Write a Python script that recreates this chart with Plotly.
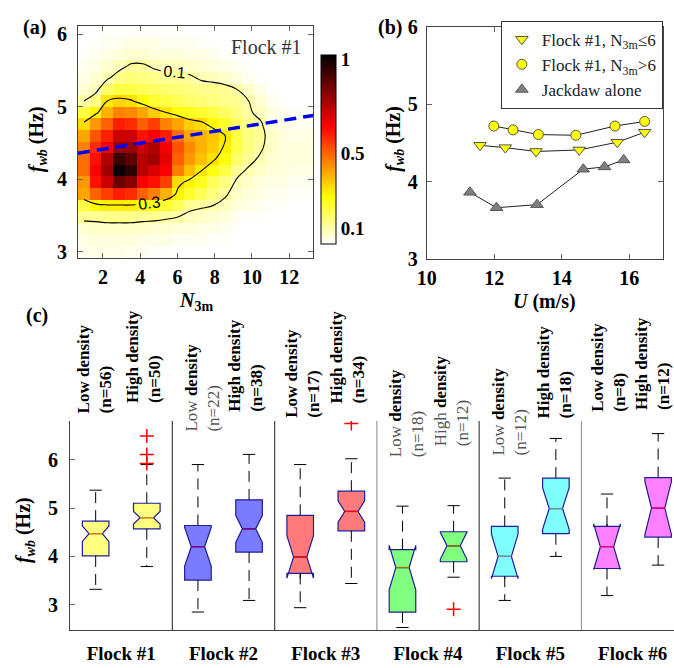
import plotly.graph_objects as go

W, H = 674, 668
SERIF = "Liberation Serif"

# ---------------- Panel (a): density of f_wb vs N_3m (Flock #1) ----------------
n3m_centers = [0.976, 1.608, 2.24, 2.872, 3.504, 4.136, 4.768, 5.4, 6.032, 6.664,
               7.296, 7.928, 8.56, 9.192, 9.824, 10.456, 11.088, 11.72, 12.352, 12.984]
fwb_centers = [3.0, 3.16, 3.32, 3.48, 3.64, 3.80, 3.96, 4.12, 4.28, 4.44,
               4.60, 4.76, 4.92, 5.08, 5.24, 5.40, 5.56, 5.72, 5.88, 6.04]
# rows from bottom (f=3.0) to top (f=6.04)
density = [
    [0.03,0.04,0.04,0.04,0.03,0.03,0.02,0.02,0.01,0.01,0.01,0.01,0.00,0.00,0.00,0.00,0.00,0.00,0.00,0.00],
    [0.04,0.05,0.05,0.05,0.05,0.04,0.04,0.04,0.03,0.03,0.03,0.02,0.02,0.01,0.01,0.00,0.00,0.00,0.00,0.00],
    [0.06,0.07,0.07,0.07,0.07,0.07,0.06,0.06,0.05,0.05,0.04,0.04,0.03,0.02,0.01,0.01,0.01,0.00,0.00,0.00],
    [0.12,0.12,0.13,0.13,0.13,0.12,0.12,0.11,0.10,0.08,0.07,0.06,0.05,0.03,0.02,0.02,0.01,0.01,0.00,0.00],
    [0.20,0.27,0.29,0.29,0.29,0.27,0.25,0.22,0.18,0.12,0.11,0.10,0.08,0.05,0.04,0.03,0.02,0.02,0.01,0.01],
    [0.40,0.50,0.55,0.60,0.58,0.50,0.45,0.38,0.28,0.22,0.18,0.14,0.11,0.07,0.05,0.04,0.03,0.03,0.02,0.02],
    [0.42,0.62,0.72,0.86,0.82,0.65,0.62,0.55,0.32,0.28,0.24,0.18,0.14,0.09,0.07,0.05,0.04,0.04,0.03,0.03],
    [0.48,0.65,0.78,1.00,0.95,0.75,0.70,0.65,0.46,0.36,0.30,0.25,0.20,0.12,0.09,0.07,0.05,0.05,0.04,0.04],
    [0.48,0.62,0.76,0.93,0.88,0.75,0.78,0.68,0.50,0.42,0.36,0.31,0.26,0.16,0.12,0.09,0.06,0.05,0.05,0.05],
    [0.45,0.58,0.66,0.80,0.80,0.72,0.76,0.66,0.52,0.44,0.38,0.34,0.29,0.20,0.14,0.11,0.07,0.05,0.05,0.05],
    [0.40,0.52,0.60,0.72,0.72,0.62,0.65,0.60,0.48,0.40,0.38,0.35,0.30,0.20,0.14,0.12,0.07,0.05,0.04,0.04],
    [0.32,0.42,0.50,0.60,0.58,0.50,0.55,0.45,0.40,0.34,0.32,0.27,0.22,0.17,0.13,0.11,0.05,0.04,0.03,0.03],
    [0.20,0.28,0.38,0.45,0.44,0.40,0.34,0.30,0.26,0.24,0.22,0.20,0.17,0.14,0.11,0.08,0.04,0.03,0.02,0.02],
    [0.10,0.14,0.30,0.33,0.31,0.26,0.22,0.20,0.18,0.16,0.15,0.14,0.13,0.12,0.10,0.06,0.03,0.02,0.01,0.01],
    [0.06,0.08,0.16,0.20,0.20,0.18,0.17,0.16,0.15,0.14,0.13,0.13,0.12,0.10,0.07,0.04,0.02,0.01,0.01,0.00],
    [0.04,0.06,0.09,0.13,0.15,0.14,0.13,0.12,0.12,0.11,0.09,0.08,0.07,0.05,0.03,0.02,0.01,0.01,0.00,0.00],
    [0.03,0.04,0.06,0.08,0.11,0.11,0.09,0.08,0.08,0.07,0.06,0.05,0.04,0.03,0.02,0.01,0.01,0.00,0.00,0.00],
    [0.02,0.03,0.04,0.05,0.06,0.06,0.05,0.05,0.05,0.04,0.04,0.03,0.02,0.02,0.01,0.01,0.00,0.00,0.00,0.00],
    [0.01,0.02,0.03,0.03,0.04,0.04,0.04,0.03,0.03,0.03,0.02,0.02,0.01,0.01,0.00,0.00,0.00,0.00,0.00,0.00],
    [0.00,0.01,0.02,0.02,0.02,0.02,0.02,0.02,0.02,0.01,0.01,0.01,0.00,0.00,0.00,0.00,0.00,0.00,0.00,0.00],
]
fit_n3m = [0.66, 13.3]
fit_fwb = [4.36, 4.88]
cbar_ticks = [0.1, 0.5, 1]
cbar_labels = ["0.1", "0.5", "1"]
a_xticks = [2, 4, 6, 8, 10, 12]
a_yticks = [3, 4, 5, 6]

# ---------------- Panel (b): f_wb vs U ----------------
U_low = [11.58, 12.33, 13.24, 14.52, 15.65, 16.46]
f_low = [4.47, 4.44, 4.39, 4.41, 4.51, 4.64]
U_high = [11.99, 12.56, 13.31, 14.42, 15.58, 16.46]
f_high = [4.72, 4.67, 4.61, 4.60, 4.72, 4.78]
U_alone = [11.28, 12.07, 13.27, 14.64, 15.27, 15.84]
f_alone = [3.86, 3.66, 3.70, 4.16, 4.19, 4.28]
b_names = ["Flock #1, N<sub>3m</sub>\u22646", "Flock #1, N<sub>3m</sub>>6", "Jackdaw alone"]
b_xticks = [10, 12, 14, 16]
b_yticks = [3, 4, 5, 6]

# ---------------- Panel (c): box plots ----------------
flocks = ["Flock #1", "Flock #2", "Flock #3", "Flock #4", "Flock #5", "Flock #6"]
box_pos = [1, 2, 3, 4, 5, 6, 7, 8, 9, 10, 11, 12]
density_kind = ["Low", "High"] * 6
n_counts = [56, 50, 22, 38, 17, 34, 18, 12, 12, 18, 8, 12]
whisk_lo = [3.32, 3.79, 2.85, 3.09, 2.94, 3.44, 2.53, 3.57, 3.09, 4.00, 3.19, 3.82]
q1 = [4.01, 4.57, 3.51, 4.09, 3.65, 4.53, 2.85, 3.89, 3.59, 4.47, 3.75, 4.40]
median = [4.47, 4.80, 4.20, 4.57, 3.99, 4.93, 3.77, 4.22, 4.00, 4.99, 4.20, 5.00]
q3 = [4.73, 5.10, 4.64, 5.17, 4.85, 5.35, 4.14, 4.51, 4.62, 5.62, 4.62, 5.63]
whisk_hi = [5.37, 5.90, 5.90, 6.11, 5.90, 6.02, 5.04, 5.05, 5.62, 6.44, 5.29, 6.54]
notch = [0.16, 0.13, 0.40, 0.28, 0.44, 0.22, 0.46, 0.28, 0.46, 0.43, 0.47, 0.55]
outlier_pos = [2, 2, 2, 6, 8]
outlier_val = [6.49, 6.11, 5.92, 6.75, 2.91]
c_yticks = [3, 4, 5, 6]

# styles
flock_fill = ["#FFFF80", "#7B7BFF", "#FF7B7B", "#80FF80", "#80FFFF", "#FF80FF"]
flock_med = ["#FF8000", "#800080", "#FF0000", "#9A7000", "#7F8F8F", "#FF0080"]
label_bottom_px = [418, 407, 437, 417, 423, 408, 463, 452, 462, 423, 417, 415]
label_shift_px = [-1, -4, 5, -3, 2, -4, 4, -2, 5, -1, 2, -5]
label_gray = [False, False, True, False, False, False, True, True, True, False, False, False]

fig = go.Figure()

# ---- (a)
fig.add_trace(go.Heatmap(
    x=n3m_centers, y=fwb_centers, z=density, zmin=0.015, zmax=1.02,
    colorscale=[[0, "#FFFFFF"], [0.25, "#FFFF00"], [0.625, "#FF0000"], [1, "#000000"]],
    xaxis="x", yaxis="y",
    colorbar=dict(x=316 / W, xanchor="left", y=1 - 143.5 / H, yanchor="middle",
                  len=189, lenmode="pixels", thickness=15, thicknessmode="pixels",
                  outlinecolor="black", outlinewidth=1, xpad=0, ypad=0,
                  tickvals=cbar_ticks, ticktext=cbar_labels, ticks="",
                  tickfont=dict(family=SERIF, size=19, color="black", weight="bold")),
    hoverinfo="skip"))
fig.add_trace(go.Contour(
    x=n3m_centers, y=fwb_centers, z=density, showscale=False, xaxis="x", yaxis="y",
    contours=dict(coloring="none", showlabels=True, start=0.1, end=0.3, size=0.2,
                  labelfont=dict(family="Liberation Sans", size=16, color="black")),
    line=dict(color="black", width=1.1, smoothing=1.2), hoverinfo="skip", showlegend=False))
fig.add_trace(go.Scatter(
    x=fit_n3m, y=fit_fwb, mode="lines", xaxis="x", yaxis="y",
    line=dict(color="#0000FF", width=3.5, dash="12px,7px"), showlegend=False))

# ---- (b)
b_sets = [(U_low, f_low, "triangle-down", "#FFFF00", 11),
          (U_high, f_high, "circle", "#FFFF00", 10),
          (U_alone, f_alone, "triangle-up", "#808080", 11)]
for (ux, fy, sym, col, sz) in b_sets:
    fig.add_trace(go.Scatter(x=ux, y=fy, mode="lines", xaxis="x2", yaxis="y2",
                             line=dict(color="#222", width=1), showlegend=False))
for (ux, fy, sym, col, sz), nm in zip(b_sets, b_names):
    fig.add_trace(go.Scatter(x=ux, y=fy, mode="markers", xaxis="x2", yaxis="y2", name=nm,
                             marker=dict(symbol=sym, size=sz, color=col,
                                         line=dict(color="#555", width=1))))

# ---- (c) boxes
for i, p in enumerate(box_pos):
    fl = i // 2
    fig.add_trace(go.Box(
        x=[p], q1=[q1[i]], median=[median[i]], q3=[q3[i]],
        lowerfence=[q1[i]], upperfence=[q3[i]], notchspan=[notch[i]],
        notched=True, notchwidth=0.25, width=0.52, whiskerwidth=0,
        fillcolor=flock_fill[fl], line=dict(color="#1E1E96", width=1.2),
        boxpoints=False, xaxis="x3", yaxis="y3", showlegend=False, hoverinfo="skip"))

# whiskers (dashed) and caps
wx, wy, cx, cy = [], [], [], []
for i, p in enumerate(box_pos):
    wx += [p, p, None, p, p, None]
    wy += [q3[i], whisk_hi[i], None, q1[i], whisk_lo[i], None]
    cx += [p - 0.12, p + 0.12, None, p - 0.12, p + 0.12, None]
    cy += [whisk_hi[i], whisk_hi[i], None, whisk_lo[i], whisk_lo[i], None]
fig.add_trace(go.Scatter(x=wx, y=wy, mode="lines", xaxis="x3", yaxis="y3",
                         line=dict(color="black", width=1, dash="11px,7px"), showlegend=False))
fig.add_trace(go.Scatter(x=cx, y=cy, mode="lines", xaxis="x3", yaxis="y3",
                         line=dict(color="black", width=1), showlegend=False))
# median lines
for fl in range(6):
    mx, my = [], []
    for i in (2 * fl, 2 * fl + 1):
        p = box_pos[i]
        mx += [p - 0.13, p + 0.13, None]
        my += [median[i], median[i], None]
    fig.add_trace(go.Scatter(x=mx, y=my, mode="lines", xaxis="x3", yaxis="y3",
                             line=dict(color=flock_med[fl], width=1.3), showlegend=False))
# outliers
fig.add_trace(go.Scatter(x=outlier_pos, y=outlier_val, mode="markers", xaxis="x3", yaxis="y3",
                         marker=dict(symbol="cross-thin", size=10, color="red",
                                     line=dict(color="red", width=1.5)), showlegend=False))

# ---------------- axes ----------------
tickfont = dict(family=SERIF, size=20, color="black", weight="bold")
frame = dict(showline=True, linecolor="#444", linewidth=1, mirror="ticks", ticks="inside",
             ticklen=5, tickcolor="#666", showgrid=False, zeroline=False, tickfont=tickfont)

fig.update_layout(
    width=W, height=H, margin=dict(l=0, r=0, t=0, b=0), autosize=False,
    paper_bgcolor="white", plot_bgcolor="white",
    xaxis=dict(domain=[69 / W, 308 / W], range=[0.66, 13.3], tickvals=a_xticks,
               anchor="y", ticklabelstandoff=1, **frame),
    yaxis=dict(domain=[1 - 255 / H, 1 - 15 / H], range=[2.92, 6.12], tickvals=a_yticks,
               anchor="x", ticklabelstandoff=6, **frame),
    xaxis2=dict(domain=[423 / W, 662.7 / W], range=[10, 17], tickvals=b_xticks,
                anchor="y2", ticklabelstandoff=1, **frame),
    yaxis2=dict(domain=[1 - 256 / H, 1 - 17 / H], range=[3, 6], tickvals=b_yticks,
                anchor="x2", ticklabelstandoff=4, **frame),
    xaxis3=dict(domain=[61 / W, 1.0], range=[0.5, 12.31], tickvals=[1.5, 3.5, 5.5, 7.5, 9.5, 11.5],
                ticktext=flocks, ticks="", showline=True, linecolor="#444", linewidth=1,
                showgrid=False, zeroline=False, anchor="y3", ticklabelstandoff=6,
                tickfont=dict(family=SERIF, size=19, color="black", weight="bold")),
    yaxis3=dict(domain=[1 - 640 / H, 1 - 424 / H], range=[2.48, 6.8], tickvals=c_yticks,
                ticks="inside", ticklen=5, tickcolor="#666", showline=True, linecolor="#444",
                linewidth=1, showgrid=False, zeroline=False, anchor="x3",
                ticklabelstandoff=7, tickfont=tickfont),
    legend=dict(x=662.7 / W, xanchor="right", y=1 - 10 / H, yanchor="top",
                bordercolor="#333", borderwidth=1, bgcolor="white",
                font=dict(family=SERIF, size=17, color="#222"), itemwidth=30,
                tracegroupgap=0),
    showlegend=True,
)

# separators between flocks
sep_x = [2.5, 4.5, 6.5, 8.5, 10.5]
sep_col = ["#444", "#444", "#999", "#444", "#999"]
for sx, sc in zip(sep_x, sep_col):
    fig.add_shape(type="line", xref="x3", yref="y3 domain", x0=sx, x1=sx, y0=0, y1=1,
                  line=dict(color=sc, width=1.2))

# ---------------- annotations ----------------
ann = []
tf = dict(family=SERIF, size=20, color="black", weight="bold")
fwb_title = "<i>f</i><sub><i>wb</i></sub> (Hz)"
ann.append(dict(text=fwb_title, x=28 / W, y=1 - 133 / H, textangle=-90, font=tf))
ann.append(dict(text="<i>N</i><sub>3m</sub>", x=188.5 / W, y=1 - 300 / H, font=tf))
ann.append(dict(text=fwb_title, x=390 / W, y=1 - 132 / H, textangle=-90, font=tf))
ann.append(dict(text="<i>U</i> (m/s)", x=543 / W, y=1 - 300 / H, font=tf))
ann.append(dict(text=fwb_title, x=15 / W, y=1 - 537 / H, textangle=-90, font=tf))
ann.append(dict(text="(a)", x=25 / W, y=1 - 17 / H, font=tf))
ann.append(dict(text="(b)", x=386 / W, y=1 - 17 / H, font=tf))
ann.append(dict(text="(c)", x=27 / W, y=1 - 315 / H, font=tf))
ann.append(dict(text="Flock #1", x=298 / W, y=1 - 37 / H, xanchor="right",
                font=dict(family=SERIF, size=20, color="#333")))

for i, p in enumerate(box_pos):
    kind = density_kind[i]
    if label_gray[i]:
        txt = ("<span style='color:#555'>%s</span> <b>density</b><br>"
               "<span style='color:#555'>(n=%d)</span>" % (kind, n_counts[i]))
    else:
        txt = "<b>%s density<br>(n=%d)</b>" % (kind, n_counts[i])
    ann.append(dict(text=txt, x=p, xref="x3", y=1 - label_bottom_px[i] / H, yref="paper",
                    xshift=label_shift_px[i],
                    textangle=-90, align="left", xanchor="center", yanchor="bottom",
                    font=dict(family=SERIF, size=17, color="black")))

for a in ann:
    a.setdefault("xref", "paper")
    a.setdefault("yref", "paper")
    a.setdefault("xanchor", "center")
    a.setdefault("yanchor", "middle")
    a["showarrow"] = False
    fig.add_annotation(**a)

fig.write_html("out.html")
